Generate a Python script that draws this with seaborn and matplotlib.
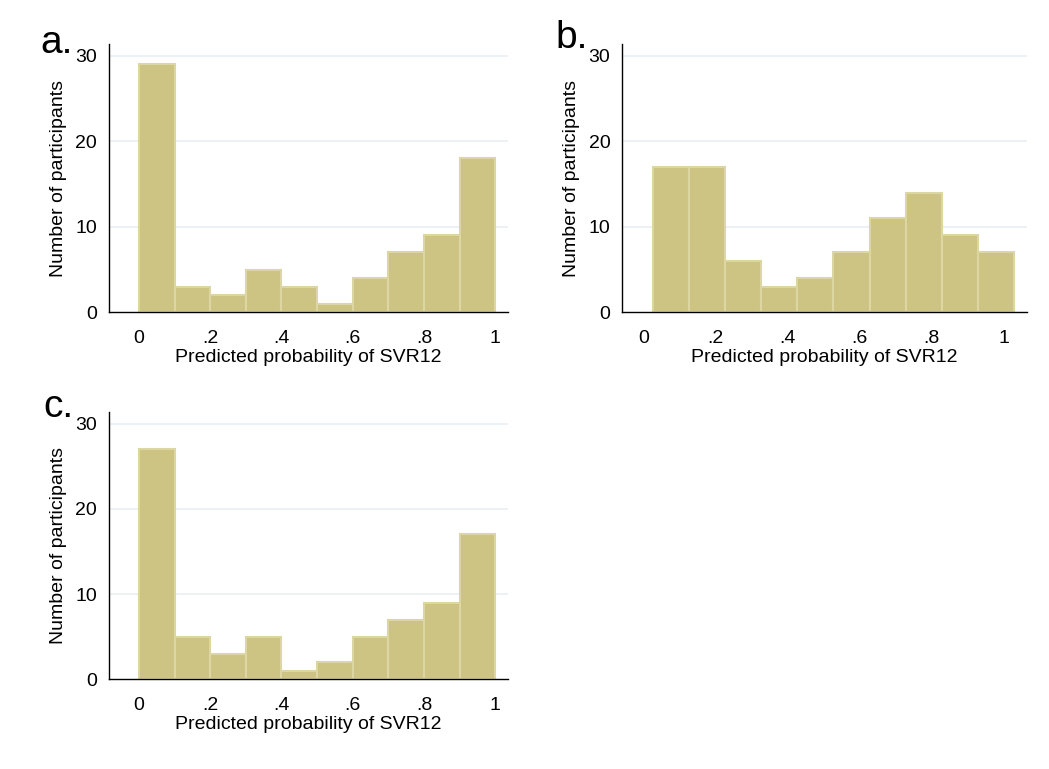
import numpy as np
import pandas as pd
import matplotlib
matplotlib.use("Agg")
import matplotlib.pyplot as plt
import seaborn as sns

# Histogram counts per bin (10 bins each)
counts_a = [29, 3, 2, 5, 3, 1, 4, 7, 9, 18]
counts_b = [17, 17, 6, 3, 4, 7, 11, 14, 9, 7]
counts_c = [27, 5, 3, 5, 1, 2, 5, 7, 9, 17]

# Bin layout: start and width of the bins
start_a, width_a = 0.0, 0.1
start_b, width_b = 0.028, 0.0999
start_c, width_c = 0.0, 0.1

x_ticks = [0, 0.2, 0.4, 0.6, 0.8, 1.0]
x_tick_labels = ["0", ".2", ".4", ".6", ".8", "1"]
y_ticks = [0, 10, 20, 30]
panel_letters = ["a.", "b.", "c."]
x_label = "Predicted probability of SVR12"
y_label = "Number of participants"

sns.set_theme(style="white")
plt.rcParams["font.family"] = ["Liberation Sans", "DejaVu Sans"]

BAR = "#cdc483"
EDGE = "#dcd6a2"
GRID = "#e8eff2"
FS = 14

fig = plt.figure(figsize=(10.49, 7.69), dpi=100)
fig.patch.set_facecolor("white")

positions = [
    [0.1039, 0.5939, 0.3804, 0.3489],
    [0.5932, 0.5939, 0.3855, 0.3489],
    [0.1039, 0.1167, 0.3804, 0.3479],
]
xlims = [(-0.084, 1.036), (-0.058, 1.063), (-0.084, 1.036)]
letter_xy = [(-0.173, 0.966), (-0.166, 0.984), (-0.165, 0.982)]
panels = [(counts_a, start_a, width_a), (counts_b, start_b, width_b), (counts_c, start_c, width_c)]

for i, ((counts, start, width), pos, xl) in enumerate(zip(panels, positions, xlims)):
    ax = fig.add_axes(pos)
    edges = [start + width * k for k in range(len(counts) + 1)]
    centers = [(edges[k] + edges[k + 1]) / 2 for k in range(len(counts))]
    df = pd.DataFrame({"p": centers, "n": counts})
    for yv in y_ticks[1:]:
        ax.axhline(yv, color=GRID, lw=1.2, zorder=0)
    sns.histplot(data=df, x="p", weights="n", bins=edges, ax=ax,
                 color=BAR, edgecolor=EDGE, linewidth=1.5, alpha=1, zorder=2)
    ax.set_xlim(*xl)
    ax.set_ylim(0, 31.4)
    ax.set_xticks(x_ticks)
    ax.set_xticklabels(x_tick_labels)
    ax.set_yticks(y_ticks)
    ax.tick_params(axis="both", which="major", direction="out", length=5,
                   width=1.0, color="black", labelsize=FS, labelcolor="black")
    ax.tick_params(axis="x", pad=7.5)
    ax.tick_params(axis="y", pad=3.5)
    for side in ("top", "right"):
        ax.spines[side].set_visible(False)
    for side in ("left", "bottom"):
        ax.spines[side].set_color("black")
        ax.spines[side].set_linewidth(1.0)
    ax.set_facecolor("white")
    ax.grid(False)
    ax.set_xlabel(x_label, fontsize=FS, labelpad=2, color="black")
    ax.set_ylabel(y_label, fontsize=FS, labelpad=6, color="black")
    lx, ly = letter_xy[i]
    ax.text(lx, ly, panel_letters[i], transform=ax.transAxes,
            fontsize=28, color="black", ha="left", va="baseline")

fig.savefig("out.png", dpi=100, facecolor="white")
